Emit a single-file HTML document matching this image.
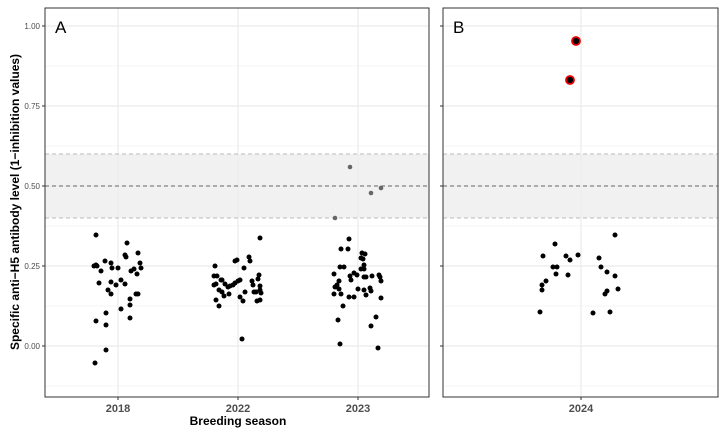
<!DOCTYPE html>
<html><head><style>body{margin:0;background:#fff}svg{display:block}</style></head><body>
<svg width="719" height="429" xmlns="http://www.w3.org/2000/svg" font-family="Liberation Sans, sans-serif">
<g id="pA">
<rect x="45" y="8" width="384" height="389" fill="#fff"/>
<g stroke="#ebebeb" stroke-width="0.6">
<line x1="45" x2="429" y1="66" y2="66"/><line x1="45" x2="429" y1="146" y2="146"/><line x1="45" x2="429" y1="226" y2="226"/><line x1="45" x2="429" y1="306" y2="306"/><line x1="45" x2="429" y1="386" y2="386"/>
</g>
<g stroke="#ebebeb" stroke-width="1.2">
<line x1="45" x2="429" y1="26" y2="26"/><line x1="45" x2="429" y1="106" y2="106"/><line x1="45" x2="429" y1="186" y2="186"/><line x1="45" x2="429" y1="266" y2="266"/><line x1="45" x2="429" y1="346" y2="346"/>
<line x1="118" x2="118" y1="8" y2="397"/><line x1="238" x2="238" y1="8" y2="397"/><line x1="358" x2="358" y1="8" y2="397"/>
</g>
<rect x="45" y="154" width="384" height="64" fill="#ebebeb" opacity="0.7"/>
<line x1="45" x2="429" y1="154" y2="154" stroke="#bbb" stroke-dasharray="4,3"/>
<line x1="45" x2="429" y1="218" y2="218" stroke="#bbb" stroke-dasharray="4,3"/>
<line x1="45" x2="429" y1="186" y2="186" stroke="#666" stroke-dasharray="4,3"/>
<g fill="#000">
<circle cx="96" cy="235" r="2.5"/><circle cx="127" cy="243" r="2.5"/><circle cx="138" cy="253" r="2.5"/><circle cx="125" cy="255" r="2.5"/><circle cx="126" cy="257" r="2.5"/><circle cx="105" cy="261" r="2.5"/><circle cx="111" cy="263" r="2.5"/><circle cx="140" cy="263" r="2.5"/><circle cx="94" cy="266" r="2.5"/><circle cx="97" cy="266" r="2.5"/><circle cx="96" cy="265" r="2.5"/><circle cx="118" cy="268" r="2.5"/><circle cx="112" cy="268" r="2.5"/><circle cx="141" cy="268" r="2.5"/><circle cx="134" cy="269" r="2.5"/><circle cx="101" cy="271" r="2.5"/><circle cx="131" cy="271" r="2.5"/><circle cx="137" cy="274" r="2.5"/><circle cx="121" cy="280" r="2.5"/><circle cx="111" cy="282" r="2.5"/><circle cx="99" cy="283" r="2.5"/><circle cx="125" cy="284" r="2.5"/><circle cx="116" cy="285" r="2.5"/><circle cx="108" cy="290" r="2.5"/><circle cx="111" cy="294" r="2.5"/><circle cx="138" cy="294" r="2.5"/><circle cx="136" cy="294" r="2.5"/><circle cx="130" cy="299" r="2.5"/><circle cx="130" cy="305" r="2.5"/><circle cx="121" cy="309" r="2.5"/><circle cx="106" cy="313" r="2.5"/><circle cx="96" cy="321" r="2.5"/><circle cx="130" cy="318" r="2.5"/><circle cx="106" cy="325" r="2.5"/><circle cx="106" cy="350" r="2.5"/><circle cx="95" cy="363" r="2.5"/>
<circle cx="260" cy="238" r="2.5"/><circle cx="237" cy="260" r="2.5"/><circle cx="235" cy="261" r="2.5"/><circle cx="249" cy="257" r="2.5"/><circle cx="250" cy="261" r="2.5"/><circle cx="215" cy="266" r="2.5"/><circle cx="244" cy="268" r="2.5"/><circle cx="214" cy="276" r="2.5"/><circle cx="217" cy="276" r="2.5"/><circle cx="259" cy="275" r="2.5"/><circle cx="258" cy="279" r="2.5"/><circle cx="221" cy="280" r="2.5"/><circle cx="222" cy="280" r="2.5"/><circle cx="240" cy="280" r="2.5"/><circle cx="238" cy="281" r="2.5"/><circle cx="235" cy="283" r="2.5"/><circle cx="233" cy="285" r="2.5"/><circle cx="230" cy="286" r="2.5"/><circle cx="252" cy="281" r="2.5"/><circle cx="253" cy="285" r="2.5"/><circle cx="214" cy="285" r="2.5"/><circle cx="216" cy="284" r="2.5"/><circle cx="225" cy="284" r="2.5"/><circle cx="219" cy="290" r="2.5"/><circle cx="228" cy="287" r="2.5"/><circle cx="260" cy="286" r="2.5"/><circle cx="260" cy="290" r="2.5"/><circle cx="222" cy="292" r="2.5"/><circle cx="224" cy="296" r="2.5"/><circle cx="229" cy="294" r="2.5"/><circle cx="254" cy="292" r="2.5"/><circle cx="256" cy="292" r="2.5"/><circle cx="245" cy="292" r="2.5"/><circle cx="261" cy="293" r="2.5"/><circle cx="240" cy="297" r="2.5"/><circle cx="243" cy="301" r="2.5"/><circle cx="257" cy="301" r="2.5"/><circle cx="260" cy="300" r="2.5"/><circle cx="216" cy="300" r="2.5"/><circle cx="219" cy="306" r="2.5"/><circle cx="242" cy="339" r="2.5"/>
<circle cx="349" cy="239" r="2.5"/><circle cx="341" cy="249" r="2.5"/><circle cx="348" cy="249" r="2.5"/><circle cx="362" cy="253" r="2.5"/><circle cx="365" cy="254" r="2.5"/><circle cx="361" cy="258" r="2.5"/><circle cx="363" cy="259" r="2.5"/><circle cx="364" cy="265" r="2.5"/><circle cx="340" cy="267" r="2.5"/><circle cx="344" cy="267" r="2.5"/><circle cx="361" cy="269" r="2.5"/><circle cx="364" cy="269" r="2.5"/><circle cx="334" cy="274" r="2.5"/><circle cx="354" cy="273" r="2.5"/><circle cx="350" cy="276" r="2.5"/><circle cx="357" cy="275" r="2.5"/><circle cx="366" cy="277" r="2.5"/><circle cx="364" cy="277" r="2.5"/><circle cx="372" cy="276" r="2.5"/><circle cx="379" cy="275" r="2.5"/><circle cx="380" cy="277" r="2.5"/><circle cx="351" cy="280" r="2.5"/><circle cx="381" cy="281" r="2.5"/><circle cx="339" cy="281" r="2.5"/><circle cx="337" cy="285" r="2.5"/><circle cx="335" cy="287" r="2.5"/><circle cx="339" cy="289" r="2.5"/><circle cx="358" cy="289" r="2.5"/><circle cx="364" cy="290" r="2.5"/><circle cx="370" cy="288" r="2.5"/><circle cx="371" cy="291" r="2.5"/><circle cx="334" cy="294" r="2.5"/><circle cx="341" cy="294" r="2.5"/><circle cx="349" cy="297" r="2.5"/><circle cx="354" cy="297" r="2.5"/><circle cx="366" cy="295" r="2.5"/><circle cx="381" cy="298" r="2.5"/><circle cx="343" cy="306" r="2.5"/><circle cx="376" cy="317" r="2.5"/><circle cx="338" cy="320" r="2.5"/><circle cx="371" cy="326" r="2.5"/><circle cx="340" cy="344" r="2.5"/><circle cx="378" cy="348" r="2.5"/>
</g>
<g fill="#666"><circle cx="350" cy="167" r="2.3"/><circle cx="335" cy="218" r="2.3"/><circle cx="371" cy="193" r="2.3"/><circle cx="381" cy="188" r="2.3"/></g>
<rect x="45" y="8" width="384" height="389" fill="none" stroke="#333" stroke-width="1"/>
<text x="55" y="33" font-size="17">A</text>
</g>
<g id="pB">
<g stroke="#ebebeb" stroke-width="0.6">
<line x1="443" x2="718" y1="66" y2="66"/><line x1="443" x2="718" y1="146" y2="146"/><line x1="443" x2="718" y1="226" y2="226"/><line x1="443" x2="718" y1="306" y2="306"/><line x1="443" x2="718" y1="386" y2="386"/>
</g>
<g stroke="#ebebeb" stroke-width="1.2">
<line x1="443" x2="718" y1="26" y2="26"/><line x1="443" x2="718" y1="106" y2="106"/><line x1="443" x2="718" y1="186" y2="186"/><line x1="443" x2="718" y1="266" y2="266"/><line x1="443" x2="718" y1="346" y2="346"/>
<line x1="581" x2="581" y1="8" y2="397"/>
</g>
<rect x="443" y="154" width="275" height="64" fill="#ebebeb" opacity="0.7"/>
<line x1="443" x2="718" y1="154" y2="154" stroke="#bbb" stroke-dasharray="4,3"/>
<line x1="443" x2="718" y1="218" y2="218" stroke="#bbb" stroke-dasharray="4,3"/>
<line x1="443" x2="718" y1="186" y2="186" stroke="#666" stroke-dasharray="4,3"/>
<g fill="#000">
<circle cx="555" cy="244" r="2.5"/><circle cx="543" cy="256" r="2.5"/><circle cx="553" cy="267" r="2.5"/><circle cx="557" cy="267" r="2.5"/><circle cx="556" cy="274" r="2.5"/><circle cx="566" cy="256" r="2.5"/><circle cx="570" cy="260" r="2.5"/><circle cx="578" cy="255" r="2.5"/><circle cx="568" cy="275" r="2.5"/><circle cx="546" cy="281" r="2.5"/><circle cx="542" cy="285" r="2.5"/><circle cx="542" cy="290" r="2.5"/><circle cx="540" cy="312" r="2.5"/>
<circle cx="615" cy="235" r="2.5"/><circle cx="599" cy="258" r="2.5"/><circle cx="601" cy="267" r="2.5"/><circle cx="607" cy="272" r="2.5"/><circle cx="615" cy="276" r="2.5"/><circle cx="618" cy="289" r="2.5"/><circle cx="607" cy="291" r="2.5"/><circle cx="605" cy="294" r="2.5"/><circle cx="593" cy="313" r="2.5"/><circle cx="610" cy="312" r="2.5"/>
</g>
<circle cx="576" cy="41" r="4" fill="#000" stroke="#e00" stroke-width="1.8"/>
<circle cx="570" cy="80" r="4" fill="#000" stroke="#e00" stroke-width="1.8"/>
<rect x="443" y="8" width="275" height="389" fill="none" stroke="#333" stroke-width="1"/>
<text x="453" y="33" font-size="17">B</text>
</g>
<g stroke="#333" stroke-width="1">
<line x1="42" x2="45" y1="26" y2="26"/><line x1="42" x2="45" y1="106" y2="106"/><line x1="42" x2="45" y1="186" y2="186"/><line x1="42" x2="45" y1="266" y2="266"/><line x1="42" x2="45" y1="346" y2="346"/>
<line x1="440" x2="443" y1="26" y2="26"/><line x1="440" x2="443" y1="106" y2="106"/><line x1="440" x2="443" y1="186" y2="186"/><line x1="440" x2="443" y1="266" y2="266"/><line x1="440" x2="443" y1="346" y2="346"/>
<line x1="118" x2="118" y1="397" y2="400"/><line x1="238" x2="238" y1="397" y2="400"/><line x1="358" x2="358" y1="397" y2="400"/><line x1="581" x2="581" y1="397" y2="400"/>
</g>
<g font-size="8" fill="#4d4d4d" text-anchor="end">
<text x="40" y="29">1.00</text><text x="40" y="109">0.75</text><text x="40" y="189">0.50</text><text x="40" y="269">0.25</text><text x="40" y="349">0.00</text>
</g>
<g font-size="11" font-weight="bold" fill="#4d4d4d" text-anchor="middle">
<text x="118" y="412">2018</text><text x="238" y="412">2022</text><text x="358" y="412">2023</text><text x="581" y="412">2024</text>
</g>
<text x="238" y="425" font-size="12" font-weight="bold" text-anchor="middle">Breeding season</text>
<text transform="translate(19,202) rotate(-90)" font-size="12" font-weight="bold" text-anchor="middle">Specific anti−H5 antibody level (1−inhibition values)</text>
</svg>
</body></html>
